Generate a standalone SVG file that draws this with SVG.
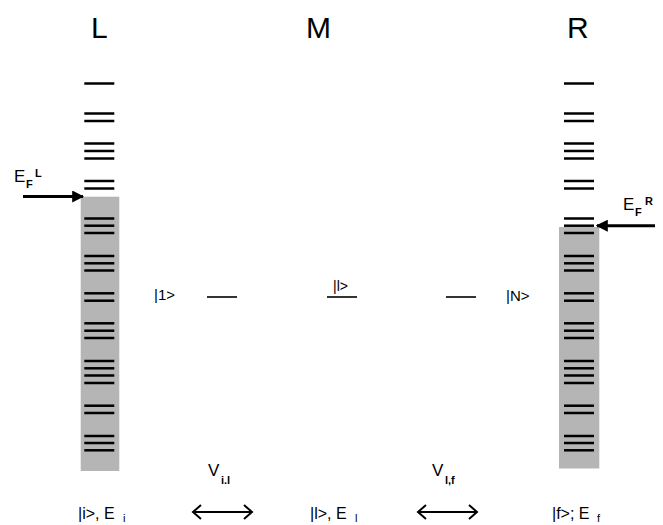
<svg xmlns="http://www.w3.org/2000/svg" width="663" height="525" viewBox="0 0 663 525">
<style>
text{font-family:"Liberation Sans",Arial,sans-serif;fill:#000}
.title{font-size:30px}
.lv{stroke:#000;stroke-width:2.5}
.ml{stroke:#000;stroke-width:1.6}
.band{fill:#b5b5b5}
.ef{stroke:#000;stroke-width:3;fill:none}
.dbl{stroke:#000;stroke-width:2;fill:none}
</style>
<defs>
<marker id="tri" viewBox="0 0 10 10" refX="9" refY="5" markerWidth="4" markerHeight="4" orient="auto" markerUnits="strokeWidth">
<path d="M0,0 L10,5 L0,10 z" fill="#000"/>
</marker>
<g id="levels">
<line class="lv" x1="0" y1="83.5" x2="30" y2="83.5"/>
<line class="lv" x1="0" y1="113.5" x2="30" y2="113.5"/>
<line class="lv" x1="0" y1="121" x2="30" y2="121"/>
<line class="lv" x1="0" y1="143.5" x2="30" y2="143.5"/>
<line class="lv" x1="0" y1="151" x2="30" y2="151"/>
<line class="lv" x1="0" y1="158.5" x2="30" y2="158.5"/>
<line class="lv" x1="0" y1="181" x2="30" y2="181"/>
<line class="lv" x1="0" y1="188.5" x2="30" y2="188.5"/>
<line class="lv" x1="0" y1="218.5" x2="30" y2="218.5"/>
<line class="lv" x1="0" y1="225.7" x2="30" y2="225.7"/>
<line class="lv" x1="0" y1="233" x2="30" y2="233"/>
<line class="lv" x1="0" y1="256" x2="30" y2="256"/>
<line class="lv" x1="0" y1="263.3" x2="30" y2="263.3"/>
<line class="lv" x1="0" y1="270.5" x2="30" y2="270.5"/>
<line class="lv" x1="0" y1="293.3" x2="30" y2="293.3"/>
<line class="lv" x1="0" y1="300.7" x2="30" y2="300.7"/>
<line class="lv" x1="0" y1="323.3" x2="30" y2="323.3"/>
<line class="lv" x1="0" y1="330.7" x2="30" y2="330.7"/>
<line class="lv" x1="0" y1="338" x2="30" y2="338"/>
<line class="lv" x1="0" y1="361" x2="30" y2="361"/>
<line class="lv" x1="0" y1="368.3" x2="30" y2="368.3"/>
<line class="lv" x1="0" y1="375.5" x2="30" y2="375.5"/>
<line class="lv" x1="0" y1="383" x2="30" y2="383"/>
<line class="lv" x1="0" y1="405.7" x2="30" y2="405.7"/>
<line class="lv" x1="0" y1="413" x2="30" y2="413"/>
<line class="lv" x1="0" y1="436" x2="30" y2="436"/>
<line class="lv" x1="0" y1="443" x2="30" y2="443"/>
<line class="lv" x1="0" y1="450.3" x2="30" y2="450.3"/>
</g>
</defs>

<g id="lead-L">
<rect class="band" x="80.7" y="196.7" width="38.6" height="274.3"/>
<use href="#levels" x="84.3" y="0"/>
<text class="title" x="91" y="38">L</text>
</g>

<g id="lead-R">
<rect class="band" x="559" y="227" width="40.3" height="241.5"/>
<use href="#levels" x="564" y="0"/>
<text class="title" x="567" y="38">R</text>
</g>

<g id="molecule">
<text class="title" x="306" y="38">M</text>
<line class="ml" x1="207" y1="297" x2="237" y2="297"/>
<line class="ml" x1="327" y1="297" x2="357" y2="297"/>
<line class="ml" x1="446" y1="297" x2="476" y2="297"/>
<text x="154" y="300" font-size="15">|1&gt;</text>
<text x="333" y="291" font-size="14">|l&gt;</text>
<text x="506" y="301" font-size="15">|N&gt;</text>
</g>

<g id="fermi-L">
<text x="14" y="182" font-size="17">E</text>
<text x="26" y="188" font-size="11" font-weight="bold">F</text>
<text x="35" y="177" font-size="11" font-weight="bold">L</text>
</g>
<g id="fermi-R">
<text x="623" y="210" font-size="17">E</text>
<text x="635" y="216" font-size="11" font-weight="bold">F</text>
<text x="645" y="205" font-size="11" font-weight="bold">R</text>
</g>

<g id="labels">
<text x="208" y="476" font-size="17">V</text>
<text x="221" y="484" font-size="11" font-weight="bold">i.l</text>
<text x="432" y="476" font-size="17">V</text>
<text x="445" y="484" font-size="11" font-weight="bold">l,f</text>
<text x="78" y="519" font-size="16">|i&gt;, E</text>
<text x="123" y="522" font-size="11">i</text>
<text x="310" y="519" font-size="16">|l&gt;, E</text>
<text x="355" y="522" font-size="11">l</text>
<text x="552" y="519" font-size="16">|f&gt;; E</text>
<text x="597" y="522" font-size="11">f</text>
</g>

<g id="connectors">
<line class="ef" x1="23" y1="196.5" x2="83" y2="196.5" marker-end="url(#tri)"/>
<line class="ef" x1="655" y1="225.7" x2="597" y2="225.7" marker-end="url(#tri)"/>
<g class="dbl">
<line x1="193" y1="512" x2="252" y2="512"/>
<polyline points="201,505 193,512 201,519"/>
<polyline points="244,505 252,512 244,519"/>
<line x1="418" y1="512" x2="477" y2="512"/>
<polyline points="426,505 418,512 426,519"/>
<polyline points="469,505 477,512 469,519"/>
</g>
</g>
</svg>
